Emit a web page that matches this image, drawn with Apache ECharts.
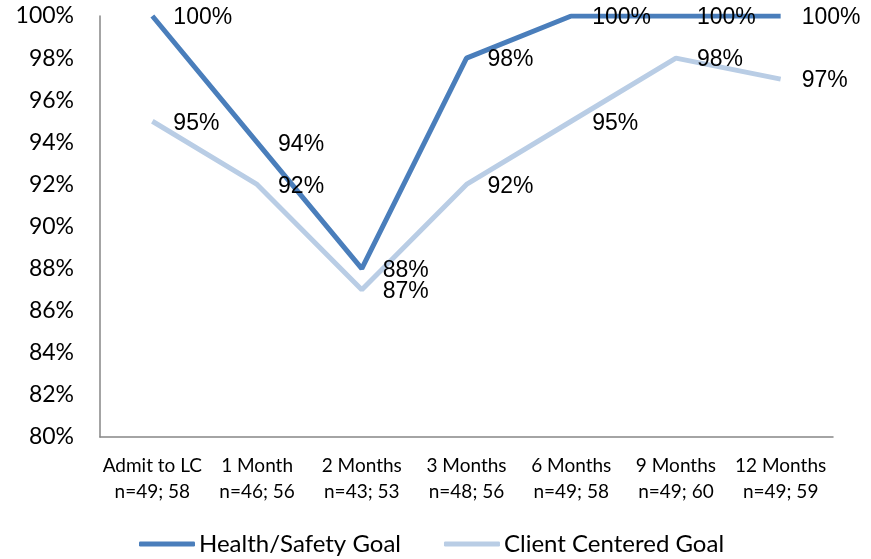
<!DOCTYPE html>
<html>
<head>
<meta charset="utf-8">
<script src="https://cdn.jsdelivr.net/npm/echarts@6/dist/echarts.min.js"></script>
<style>
html, body { margin: 0; padding: 0; background: #fff; }
#chart { width: 871px; height: 559px; }
</style>
</head>
<body>
<div id="chart"></div>
<script>
// 类目与数据
const categories = ['Admit to LC\nn=49; 58', '1 Month\nn=46; 56', '2 Months\nn=43; 53', '3 Months\nn=48; 56', '6 Months\nn=49; 58', '9 Months\nn=49; 60', '12 Months\nn=49; 59']
const healthSafety = [100, 94, 88, 98, 100, 100, 100]
const clientCentered = [95, 92, 87, 92, 95, 98, 97]
const seriesNames = ['Health/Safety Goal', 'Client Centered Goal']

const chart = echarts.init(document.getElementById('chart'))

const makeSeries = (name, data, color) => {
    return {
        name: name,
        type: 'line',
        data: data,
        symbol: 'circle',
        symbolSize: 0,
        showSymbol: true,
        lineStyle: { color: color, width: 5 },
        itemStyle: { color: color },
        label: {
            show: true,
            position: 'right',
            distance: 21,
            offset: [0, 2],
            formatter: '{c}%',
            color: '#000',
            fontFamily: 'Liberation Sans',
            fontSize: 23
        },
        emphasis: { disabled: true }
    }
}

const option = {
    animation: false,
    grid: {
        left: 100,
        right: 38,
        top: 16,
        bottom: 122
    },
    legend: {
        left: 134,
        top: 527,
        itemWidth: 56,
        itemHeight: 5,
        itemGap: 43,
        icon: 'roundRect',
        textStyle: { fontFamily: 'Lato', fontSize: 24, color: '#000', padding: [0, 0, 0, -1] },
        data: seriesNames
    },
    xAxis: {
        type: 'category',
        data: categories,
        boundaryGap: true,
        axisLine: { lineStyle: { color: '#868686', width: 1.5 } },
        axisTick: { show: false },
        axisLabel: {
            interval: 0,
            color: '#000',
            fontFamily: 'Lato',
            fontSize: 19,
            lineHeight: 26,
            margin: 16
        }
    },
    yAxis: {
        type: 'value',
        min: 80,
        max: 100,
        interval: 2,
        axisLine: { show: true, lineStyle: { color: '#868686', width: 1.5 } },
        axisTick: { show: false },
        splitLine: { show: false },
        axisLabel: {
            formatter: '{value}%',
            color: '#000',
            fontFamily: 'Lato',
            fontSize: 23,
            margin: 26
        }
    },
    series: [
        makeSeries(seriesNames[0], healthSafety, '#4A7EBB'),
        makeSeries(seriesNames[1], clientCentered, '#B9CDE5')
    ]
}
chart.setOption(option)
</script>
</body>
</html>
